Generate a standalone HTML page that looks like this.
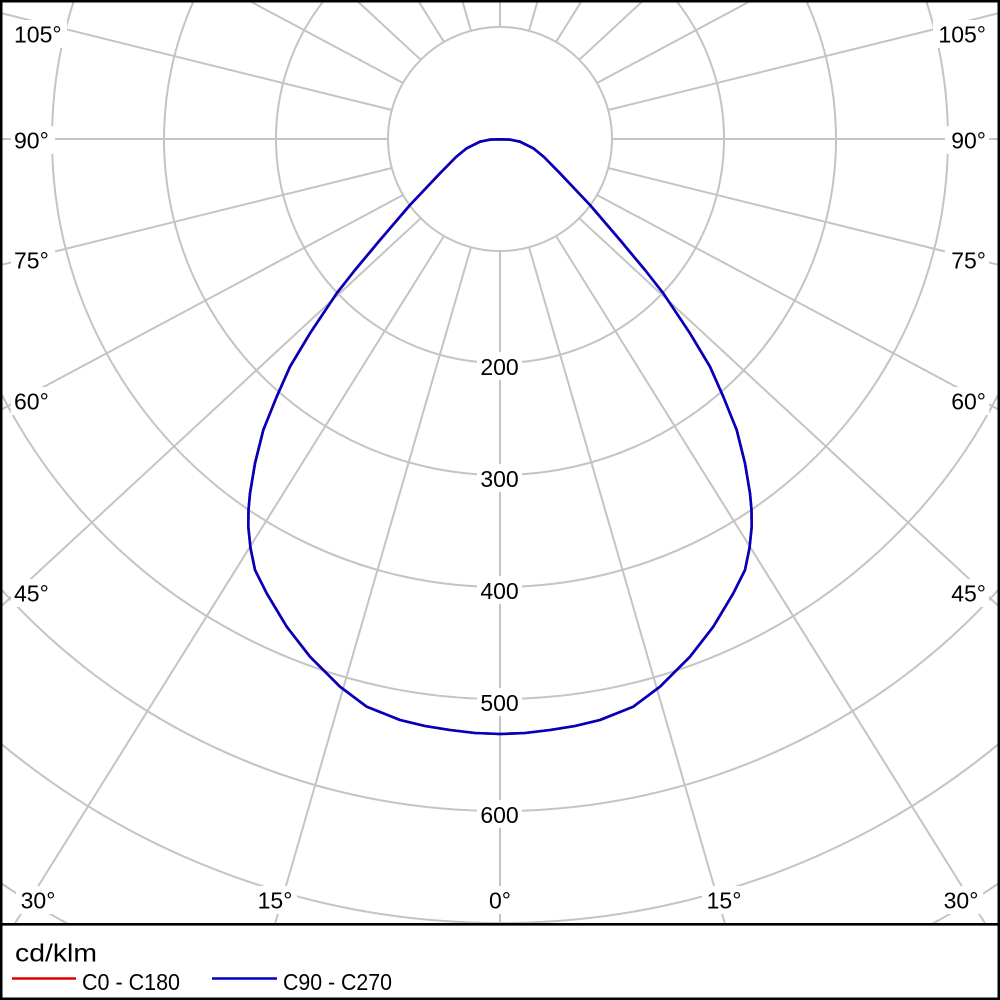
<!DOCTYPE html>
<html><head><meta charset="utf-8"><style>
html,body{margin:0;padding:0;background:#fff;width:1000px;height:1000px;overflow:hidden;}
svg{display:block;overflow:hidden;}
text{font-family:"Liberation Sans","DejaVu Sans",sans-serif;fill:#000;}
</style></head><body>
<svg width="1000" height="1000" viewBox="0 0 1000 1000" xmlns="http://www.w3.org/2000/svg">
<rect x="0" y="0" width="1000" height="1000" fill="#fff"/>
<g fill="none" stroke="#c4c4c4" stroke-width="2">
<circle cx="500" cy="139" r="112"/>
<path d="M324.3,0 A224,224 0 1 0 675.7,0"/>
<path d="M194.1,0 A336,336 0 1 0 805.9,0"/>
<path d="M74.1,0 A448,448 0 1 0 925.9,0"/>
<path d="M0,391.2 A560,560 0 0 0 1000,391.2"/>
<path d="M0,588 A672,672 0 0 0 1000,588"/>
<path d="M0,742.9 A784,784 0 0 0 1000,742.9"/>
<path d="M0,882.5 A896,896 0 0 0 68,924"/>
<path d="M932,924 A896,896 0 0 0 1000,882.5"/>
<line x1="500" y1="251" x2="500" y2="924"/>
<line x1="471.01" y1="247.18" x2="274.95" y2="924"/>
<line x1="444" y1="235.99" x2="14.6" y2="924"/>
<line x1="420.8" y1="218.2" x2="0" y2="607.4"/>
<line x1="403" y1="195" x2="0" y2="410.2"/>
<line x1="391.82" y1="167.99" x2="0" y2="265.1"/>
<line x1="388" y1="139" x2="0" y2="139"/>
<line x1="391.82" y1="110.01" x2="0" y2="12.9"/>
<line x1="403" y1="83" x2="247.6" y2="0"/>
<line x1="420.8" y1="59.8" x2="356.2" y2="0"/>
<line x1="444" y1="42.01" x2="417.8" y2="0"/>
<line x1="471.01" y1="30.82" x2="462.1" y2="0"/>
<line x1="500" y1="27" x2="500" y2="0"/>
<line x1="528.99" y1="247.18" x2="725.05" y2="924"/>
<line x1="556" y1="235.99" x2="985.4" y2="924"/>
<line x1="579.2" y1="218.2" x2="1000" y2="607.4"/>
<line x1="597" y1="195" x2="1000" y2="410.2"/>
<line x1="608.18" y1="167.99" x2="1000" y2="265.1"/>
<line x1="612" y1="139" x2="1000" y2="139"/>
<line x1="608.18" y1="110.01" x2="1000" y2="12.9"/>
<line x1="597" y1="83" x2="752.4" y2="0"/>
<line x1="579.2" y1="59.8" x2="643.8" y2="0"/>
<line x1="556" y1="42.01" x2="582.2" y2="0"/>
<line x1="528.99" y1="30.82" x2="537.9" y2="0"/>
</g>
<g fill="#fff">
<rect x="477" y="352" width="45" height="28"/>
<rect x="477" y="464" width="45" height="28"/>
<rect x="477" y="576" width="45" height="28"/>
<rect x="477" y="688" width="45" height="28"/>
<rect x="477" y="800" width="45" height="28"/>
<rect x="11" y="20" width="56" height="28"/>
<rect x="11" y="126" width="44" height="28"/>
<rect x="11" y="246" width="44" height="28"/>
<rect x="11" y="387" width="44" height="28"/>
<rect x="11" y="579" width="44" height="28"/>
<rect x="933" y="20" width="56" height="28"/>
<rect x="945" y="126" width="44" height="28"/>
<rect x="945" y="246" width="44" height="28"/>
<rect x="945" y="387" width="44" height="28"/>
<rect x="945" y="579" width="44" height="28"/>
<rect x="16" y="886" width="44" height="28"/>
<rect x="253" y="886" width="44" height="28"/>
<rect x="484" y="886" width="31" height="28"/>
<rect x="702" y="886" width="44" height="28"/>
<rect x="939" y="886" width="44" height="28"/>
</g>
<g fill="none" stroke-width="2.6" stroke-linejoin="round" stroke-linecap="round">
<polyline stroke="#e00000" points="500,139.3 490,139.6 480,141.7 466.7,148.3 456,157 440,173.3 410,205 380,240 371.7,250 355,270 336.7,293.3 310,333.3 290,366.7 276.7,396.7 263.3,430 255,463.3 250,493.3 248.5,510 248.3,526.7 250.5,548 255,570 266.7,593.3 286.7,626.7 310,656.7 340,686.7 366.7,706.7 400,720 425,726 450,730 475,733 500,734 525,733 550,730 575,726 600,720 633.3,706.7 660,686.7 690,656.7 713.3,626.7 733.3,593.3 745,570 749.5,548 751.7,526.7 751.5,510 750,493.3 745,463.3 736.7,430 723.3,396.7 710,366.7 690,333.3 663.3,293.3 645,270 628.3,250 620,240 590,205 560,173.3 544,157 533.3,148.3 520,141.7 510,139.6 500,139.3"/>
<polyline stroke="#0000c0" points="500,139.3 490,139.6 480,141.7 466.7,148.3 456,157 440,173.3 410,205 380,240 371.7,250 355,270 336.7,293.3 310,333.3 290,366.7 276.7,396.7 263.3,430 255,463.3 250,493.3 248.5,510 248.3,526.7 250.5,548 255,570 266.7,593.3 286.7,626.7 310,656.7 340,686.7 366.7,706.7 400,720 425,726 450,730 475,733 500,734 525,733 550,730 575,726 600,720 633.3,706.7 660,686.7 690,656.7 713.3,626.7 733.3,593.3 745,570 749.5,548 751.7,526.7 751.5,510 750,493.3 745,463.3 736.7,430 723.3,396.7 710,366.7 690,333.3 663.3,293.3 645,270 628.3,250 620,240 590,205 560,173.3 544,157 533.3,148.3 520,141.7 510,139.6 500,139.3"/>
</g>
<g font-size="23">
<text x="499.5" y="375" text-anchor="middle">200</text>
<text x="499.5" y="487" text-anchor="middle">300</text>
<text x="499.5" y="599" text-anchor="middle">400</text>
<text x="499.5" y="711" text-anchor="middle">500</text>
<text x="499.5" y="823" text-anchor="middle">600</text>
<text x="14" y="42.5">105°</text>
<text x="14" y="148.5">90°</text>
<text x="14" y="268.5">75°</text>
<text x="14" y="409.5">60°</text>
<text x="14" y="601.5">45°</text>
<text x="986" y="42.5" text-anchor="end">105°</text>
<text x="986" y="148.5" text-anchor="end">90°</text>
<text x="986" y="268.5" text-anchor="end">75°</text>
<text x="986" y="409.5" text-anchor="end">60°</text>
<text x="986" y="601.5" text-anchor="end">45°</text>
<text x="38" y="908.5" text-anchor="middle">30°</text>
<text x="275" y="908.5" text-anchor="middle">15°</text>
<text x="500" y="908.5" text-anchor="middle">0°</text>
<text x="724" y="908.5" text-anchor="middle">15°</text>
<text x="961" y="908.5" text-anchor="middle">30°</text>
</g>
<rect x="1.25" y="1.25" width="997.5" height="997.5" fill="none" stroke="#000" stroke-width="2.5"/>
<line x1="0" y1="924.3" x2="1000" y2="924.3" stroke="#000" stroke-width="2.6"/>
<text x="15" y="961.5" font-size="25" textLength="82" lengthAdjust="spacingAndGlyphs">cd/klm</text>
<line x1="12" y1="978.5" x2="76" y2="978.5" stroke="#e00000" stroke-width="2.5"/>
<text x="82" y="990" font-size="23" textLength="98" lengthAdjust="spacingAndGlyphs">C0 - C180</text>
<line x1="212" y1="978.5" x2="277" y2="978.5" stroke="#0000c0" stroke-width="2.5"/>
<text x="283" y="990" font-size="23" textLength="109" lengthAdjust="spacingAndGlyphs">C90 - C270</text>
</svg>
</body></html>
